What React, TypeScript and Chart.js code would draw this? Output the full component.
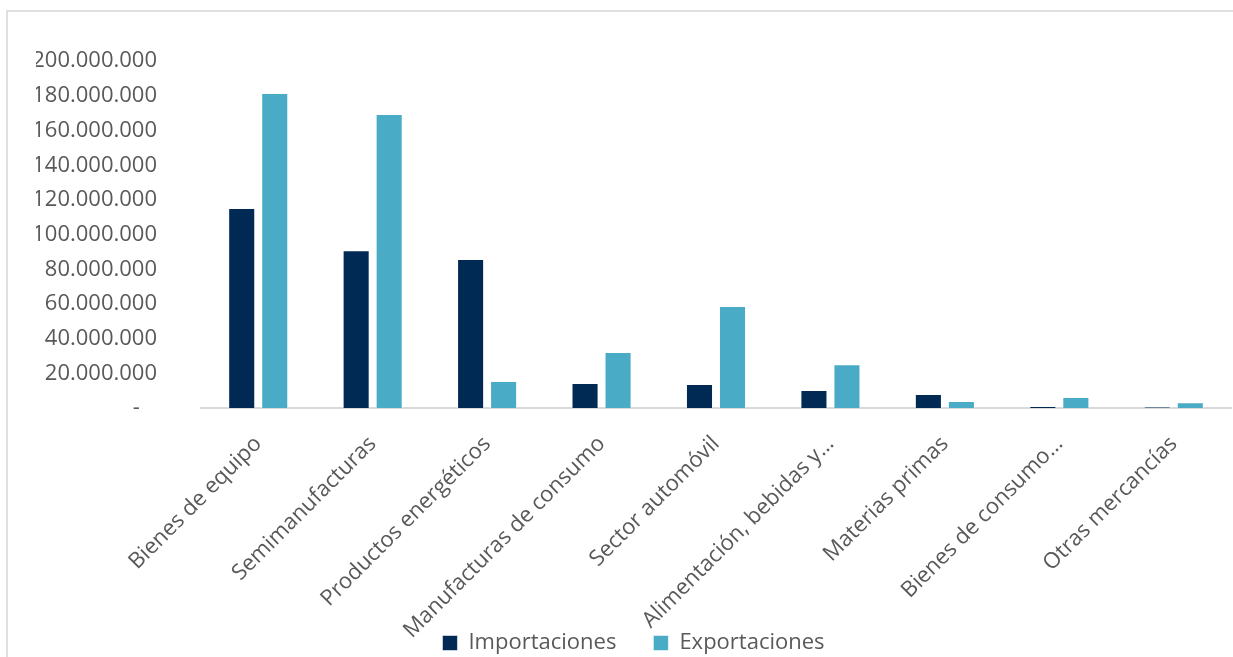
import React, { useEffect, useRef } from "react";
import { Chart, registerables } from "chart.js";

Chart.register(...registerables);

const categories = [
  "Bienes de equipo",
  "Semimanufacturas",
  "Productos energéticos",
  "Manufacturas de consumo",
  "Sector automóvil",
  "Alimentación, bebidas y…",
  "Materias primas",
  "Bienes de consumo…",
  "Otras mercancías",
];

const importaciones = [
  115300000, 91000000, 85900000, 14400000, 13800000, 10400000, 8100000, 1200000, 700000,
];

const exportaciones = [
  181600000, 169500000, 15600000, 32300000, 58800000, 25200000, 4000000, 6300000, 3300000,
];

const seriesLabels = ["Importaciones", "Exportaciones"];
const seriesColors = ["#002a54", "#4aabc6"];

const yMin = 0;
const yMax = 200000000;
const yStep = 20000000;

const FONT = "'Open Sans', 'Noto Sans', sans-serif";
const TEXT = "#595959";

function fmt(v: number): string {
  if (v === 0) return "-   ";
  return String(Math.round(v)).replace(/\B(?=(\d{3})+(?!\d))/g, ".");
}

export default function App() {
  const ref = useRef<HTMLCanvasElement | null>(null);

  useEffect(() => {
    if (!ref.current) return;
    const chart = new Chart(ref.current, {
      type: "bar",
      data: {
        labels: categories,
        datasets: [
          {
            label: seriesLabels[0],
            data: importaciones,
            backgroundColor: seriesColors[0],
            borderColor: "rgba(255,255,255,0.55)",
            borderWidth: 1,
          },
          {
            label: seriesLabels[1],
            data: exportaciones,
            backgroundColor: seriesColors[1],
            borderColor: "rgba(255,255,255,0.55)",
            borderWidth: 1,
          },
        ],
      },
      options: {
        animation: false,
        responsive: false,
        maintainAspectRatio: false,
        datasets: {
          bar: { barPercentage: 0.82, categoryPercentage: 0.577 },
        },
        layout: { padding: { top: 42, left: 27, right: 27, bottom: 0 } },
        plugins: {
          tooltip: { enabled: false },
          legend: {
            position: "bottom",
            labels: {
              font: { family: FONT, size: 22 },
              color: TEXT,
              boxWidth: 15,
              boxHeight: 15,
              padding: 37,
            },
          },
        },
        scales: {
          x: {
            grid: { display: false },
            border: { display: true, color: "#d9d9d9", width: 2 },
            ticks: {
              autoSkip: false,
              minRotation: 45,
              maxRotation: 45,
              padding: 15,
              font: { family: FONT, size: 22 },
              color: TEXT,
            },
            afterFit: (s: any) => {
              s.height = 187;
              s._computeLabelArea = () => null;
            },
          },
          y: {
            min: yMin,
            max: yMax,
            grid: { display: false },
            border: { display: false },
            ticks: {
              stepSize: yStep,
              padding: 36,
              font: { family: FONT, size: 22 },
              color: TEXT,
              callback: (v: any) => fmt(Number(v)),
            },
            afterFit: (s: any) => {
              s.width = 165;
            },
          },
        },
      },
    });
    return () => chart.destroy();
  }, []);

  return (
    <div
      style={{
        position: "fixed",
        left: 0,
        top: 0,
        width: 1233,
        height: 657,
        overflow: "hidden",
        background: "#ffffff",
      }}
    >
      <div
        style={{
          position: "absolute",
          left: 6,
          top: 10,
          width: 1300,
          height: 700,
          borderLeft: "2px solid #e0e0e0",
          borderTop: "2px solid #e0e0e0",
        }}
      />
      <canvas
        ref={ref}
        width={1249}
        height={652}
        style={{ position: "absolute", left: 9, top: 12, width: 1249, height: 652 }}
      />
    </div>
  );
}
